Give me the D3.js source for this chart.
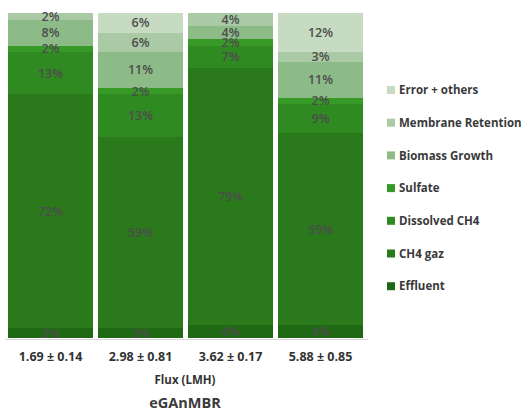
<!DOCTYPE html>
<html>
<head>
<meta charset="utf-8">
<script src="https://cdn.jsdelivr.net/npm/d3@7"></script>
<style>
  html, body { margin: 0; padding: 0; background: #ffffff; }
  svg { display: block; font-family: "Open Sans", "Noto Sans", sans-serif; }
</style>
</head>
<body>
<svg id="chart" width="523" height="414"></svg>
<script>
// Flux conditions (x categories)
const categories = ["1.69 ± 0.14", "2.98 ± 0.81", "3.62 ± 0.17", "5.88 ± 0.85"];

// Series, stacked bottom to top (percent of COD balance)
const seriesNames = ["Effluent", "CH4 gaz", "Dissolved CH4", "Sulfate", "Biomass Growth", "Membrane Retention", "Error + others"];
const effluent      = [3, 3, 4, 4];
const ch4Gaz        = [72, 59, 79, 59];
const dissolvedCH4  = [13, 13, 7, 9];
const sulfate       = [2, 2, 2, 2];
const biomassGrowth = [8, 11, 4, 11];
const membraneRet   = [2, 6, 4, 3];
const errorOthers   = [0, 6, 0, 12];

const seriesValues = [effluent, ch4Gaz, dissolvedCH4, sulfate, biomassGrowth, membraneRet, errorOthers];
const colors = ["#206914", "#2a7a1c", "#2f8a22", "#379a27", "#8cbb88", "#a9caa4", "#c7dac2"];

const xTitle = "Flux (LMH)";
const chartTitle = "eGAnMBR";

const svg = d3.select("#chart");

// Table for d3.stack
const rows = categories.map((c, i) => {
  const r = { cat: c };
  seriesNames.forEach((s, k) => { r[s] = seriesValues[k][i]; });
  return r;
});
const stacked = d3.stack().keys(seriesNames)(rows);

const x = d3.scaleBand().domain(categories).range([5.5, 365.5]).paddingInner(0.056).paddingOuter(0.028);
const y = d3.scaleLinear().domain([0, 100]).range([338, 13]);

// Bars (crisp edges so stacked segments meet without seams)
const layer = svg.append("g").attr("shape-rendering", "crispEdges")
  .selectAll("g").data(stacked).join("g")
  .attr("fill", (d, i) => colors[i]);
layer.selectAll("rect").data(d => d).join("rect")
  .attr("x", d => x(d.data.cat))
  .attr("width", x.bandwidth())
  .attr("y", d => y(d[1]))
  .attr("height", d => Math.max(0, y(d[0]) - y(d[1])));

// Baseline
svg.append("line")
  .attr("x1", 5).attr("x2", 368)
  .attr("y1", y(0) + 1.5).attr("y2", y(0) + 1.5)
  .attr("stroke", "#d9d9d9").attr("stroke-width", 1);

// Segment value labels
const labelG = svg.append("g");
stacked.forEach((s) => {
  s.forEach((d) => {
    const v = d[1] - d[0];
    if (v <= 0) return;
    labelG.append("text")
      .attr("x", x(d.data.cat) + x.bandwidth() / 2)
      .attr("y", (y(d[0]) + y(d[1])) / 2)
      .attr("dy", "0.36em")
      .attr("text-anchor", "middle")
      .attr("font-size", 12.5)
      .attr("font-weight", 600)
      .attr("fill", "#4d4d4d")
      .text(v + "%");
  });
});

// Category axis labels
svg.append("g").selectAll("text").data(categories).join("text")
  .attr("x", d => x(d) + x.bandwidth() / 2)
  .attr("y", 361)
  .attr("text-anchor", "middle")
  .attr("font-size", 12.5)
  .attr("font-weight", 700)
  .attr("fill", "#333333")
  .text(d => d);

// Axis title
svg.append("text")
  .attr("x", 185).attr("y", 384)
  .attr("text-anchor", "middle")
  .attr("font-size", 11.5)
  .attr("font-weight", 700)
  .attr("fill", "#333333")
  .text(xTitle);

// Chart title
svg.append("text")
  .attr("x", 185).attr("y", 408)
  .attr("text-anchor", "middle")
  .attr("font-size", 14.5)
  .attr("font-weight", 700)
  .attr("fill", "#3a3a3a")
  .text(chartTitle);

// Legend, top entry is the top of the stack
const legendItems = seriesNames.map((n, i) => ({ name: n, color: colors[i] })).reverse();
const lg = svg.append("g").selectAll("g").data(legendItems).join("g")
  .attr("transform", (d, i) => `translate(387, ${90 + i * 32.7})`);
lg.append("rect")
  .attr("x", 0).attr("y", -4).attr("width", 8).attr("height", 8)
  .attr("fill", d => d.color);
lg.append("text")
  .attr("x", 12).attr("y", 0).attr("dy", "0.36em")
  .attr("font-size", 11.5)
  .attr("font-weight", 700)
  .attr("fill", "#3a3a3a")
  .text(d => d.name);
</script>
</body>
</html>
